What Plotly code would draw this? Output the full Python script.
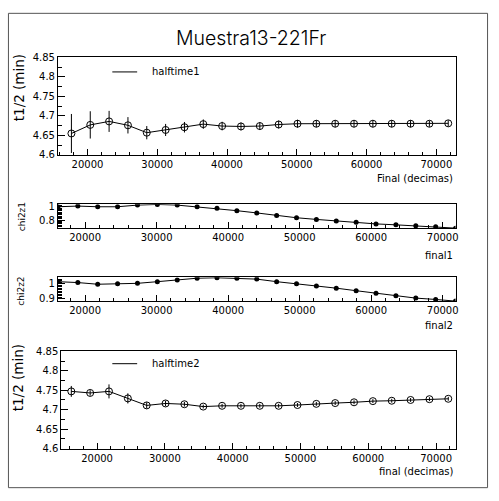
import plotly.graph_objects as go

# ---------------- data ----------------
# x values of the "Final (decimas)" graph (panel 1)
final_x1 = [17700, 20400, 23100, 25800, 28500, 31200, 33900, 36600, 39300, 42000, 44700,
            47400, 50100, 52800, 55500, 58200, 60900, 63600, 66300, 69000, 71700]
# x values of final1 / final2 / final graphs (panels 2-4)
final_x = [16200, 18980, 21760, 24540, 27320, 30100, 32880, 35660, 38440, 41220, 44000,
           46780, 49560, 52340, 55120, 57900, 60680, 63460, 66240, 69020, 71800]

halftime1 = [4.655, 4.677, 4.686, 4.676, 4.657, 4.664, 4.671, 4.679, 4.674, 4.673, 4.674,
             4.678, 4.680, 4.680, 4.680, 4.680, 4.680, 4.680, 4.680, 4.680, 4.681]
halftime1_err = [0.050, 0.035, 0.027, 0.021, 0.017, 0.0155, 0.0135, 0.012, 0.011, 0.010, 0.010,
                 0.010, 0.010, 0.009, 0.009, 0.009, 0.009, 0.009, 0.009, 0.008, 0.008]

chi2z1 = [1.000, 1.010, 1.000, 1.000, 1.025, 1.035, 1.025, 1.000, 0.976, 0.941, 0.907,
          0.868, 0.834, 0.809, 0.785, 0.765, 0.741, 0.727, 0.712, 0.697, 0.677]

chi2z2 = [1.014, 1.008, 0.997, 1.001, 1.003, 1.014, 1.025, 1.037, 1.040, 1.037, 1.031,
          1.014, 1.001, 0.986, 0.971, 0.954, 0.937, 0.921, 0.905, 0.896, 0.885]

halftime2 = [4.747, 4.743, 4.747, 4.729, 4.711, 4.716, 4.714, 4.708, 4.710, 4.710, 4.710,
             4.710, 4.712, 4.715, 4.717, 4.719, 4.722, 4.723, 4.725, 4.727, 4.728]
halftime2_err = [0.014, 0.007, 0.018, 0.013, 0.008, 0.007, 0.006, 0.005, 0.005, 0.005, 0.005,
                 0.005, 0.005, 0.005, 0.005, 0.005, 0.005, 0.005, 0.005, 0.005, 0.005]

title_text = "Muestra13-221Fr"
legend1 = "halftime1"
legend2 = "halftime2"
xtitles = ["Final (decimas)", "final1", "final2", "final (decimas)"]
ytitles = ["t1/2 (min)", "chi2z1", "chi2z2", "t1/2 (min)"]

# ---------------- layout helpers ----------------
W, H = 499, 501
def X(px): return px / W
def Y(py): return 1 - py / H

FONT = "DejaVu Sans"
BLACK = "#000000"

fig = go.Figure()

fig.add_trace(go.Scatter(x=final_x1, y=halftime1, mode="lines+markers",
                         error_y=dict(type="data", array=halftime1_err, width=0, thickness=1, color=BLACK),
                         line=dict(color=BLACK, width=1),
                         marker=dict(symbol="circle-open", size=7, color=BLACK, line=dict(width=1)),
                         xaxis="x", yaxis="y", showlegend=False))
fig.add_trace(go.Scatter(x=final_x, y=chi2z1, mode="lines+markers",
                         line=dict(color=BLACK, width=1),
                         marker=dict(symbol="circle", size=5, color=BLACK),
                         xaxis="x2", yaxis="y2", showlegend=False))
fig.add_trace(go.Scatter(x=final_x, y=chi2z2, mode="lines+markers",
                         line=dict(color=BLACK, width=1),
                         marker=dict(symbol="circle", size=5, color=BLACK),
                         xaxis="x3", yaxis="y3", showlegend=False))
fig.add_trace(go.Scatter(x=final_x, y=halftime2, mode="lines+markers",
                         error_y=dict(type="data", array=halftime2_err, width=0, thickness=1, color=BLACK),
                         line=dict(color=BLACK, width=1),
                         marker=dict(symbol="circle-open", size=7, color=BLACK, line=dict(width=1)),
                         xaxis="x4", yaxis="y4", showlegend=False))

def xax(dom, rng, anchor, fs):
    return dict(domain=dom, range=rng, anchor=anchor, showgrid=False, zeroline=False,
                showline=True, linecolor=BLACK, linewidth=1, mirror=True,
                ticks="inside", ticklen=6, tickcolor=BLACK, tickwidth=1,
                tick0=0, dtick=10000, tickformat="d",
                minor=dict(dtick=2000, ticks="inside", ticklen=3, tickcolor=BLACK),
                tickfont=dict(family=FONT, size=fs, color=BLACK))

def yax(dom, rng, anchor, dtick, mdtick, fs):
    return dict(domain=dom, range=rng, anchor=anchor, showgrid=False, zeroline=False,
                showline=True, linecolor=BLACK, linewidth=1, mirror=True,
                ticks="inside", ticklen=7, tickcolor=BLACK, tickwidth=1,
                tick0=0, dtick=dtick,
                minor=dict(dtick=mdtick, ticks="inside", ticklen=4, tickcolor=BLACK),
                tickfont=dict(family=FONT, size=fs, color=BLACK))

L1, L4, R = 58.3, 61.7, 458.3
fig.update_layout(
    width=W, height=H, margin=dict(l=0, r=0, t=0, b=0),
    paper_bgcolor="white", plot_bgcolor="white",
    xaxis=xax([X(L1), X(R)], [15770, 72750], "y", 10),
    yaxis=yax([Y(153), Y(53.5)], [4.5999, 4.8501], "x", 0.05, 0.025, 10),
    xaxis2=xax([X(L1), X(R)], [16200, 71800], "y2", 10),
    yaxis2=yax([Y(227.7), Y(203.3)], [0.677, 1.038], "x2", 0.2, 0.02, 10),
    xaxis3=xax([X(L1), X(R)], [16200, 71800], "y3", 10),
    yaxis3=yax([Y(302.3), Y(277.7)], [0.884, 1.044], "x3", 0.1, 0.01, 10),
    xaxis4=xax([X(L4), X(R)], [14730, 72870], "y4", 10),
    yaxis4=yax([Y(452.7), Y(353.3)], [4.5999, 4.8501], "x4", 0.05, 0.025, 10),
)

ann = []
ann.append(dict(text=title_text, x=X(253), y=Y(34), xref="paper", yref="paper",
                showarrow=False, xanchor="center", yanchor="middle",
                font=dict(family="Inter", size=19.5, color=BLACK, weight=300)))
for t, py in zip(xtitles, [177, 255.7, 326.7, 476]):
    ann.append(dict(text=t, x=X(458), y=Y(py), xref="paper", yref="paper", showarrow=False,
                    xanchor="right", yanchor="middle", font=dict(family=FONT, size=10, color=BLACK)))
for t, px, py, fs in zip(ytitles, [19, 21.7, 21.7, 19], [84, 216, 292, 380], [13.5, 9, 9, 13.5]):
    ann.append(dict(text=t, x=X(px), y=Y(py), xref="paper", yref="paper", showarrow=False,
                    textangle=-90, xanchor="center", yanchor="middle",
                    font=dict(family=FONT, size=fs, color=BLACK)))
for t, py in zip([legend1, legend2], [68.3, 366]):
    ann.append(dict(text=t, x=X(151), y=Y(py), xref="paper", yref="paper", showarrow=False,
                    xanchor="left", yanchor="middle", font=dict(family=FONT, size=10, color=BLACK)))
fig.update_layout(annotations=ann)

shapes = []
for py in [68.3, 366]:
    shapes.append(dict(type="line", xref="paper", yref="paper", x0=X(113), x1=X(138),
                       y0=Y(py), y1=Y(py), line=dict(color=BLACK, width=1)))
shapes.append(dict(type="rect", xref="paper", yref="paper", x0=X(8.5), x1=X(490.5),
                   y0=Y(492.5), y1=Y(8.5), line=dict(color="#555555", width=1)))
fig.update_layout(shapes=shapes)

fig.write_html("out.html")
